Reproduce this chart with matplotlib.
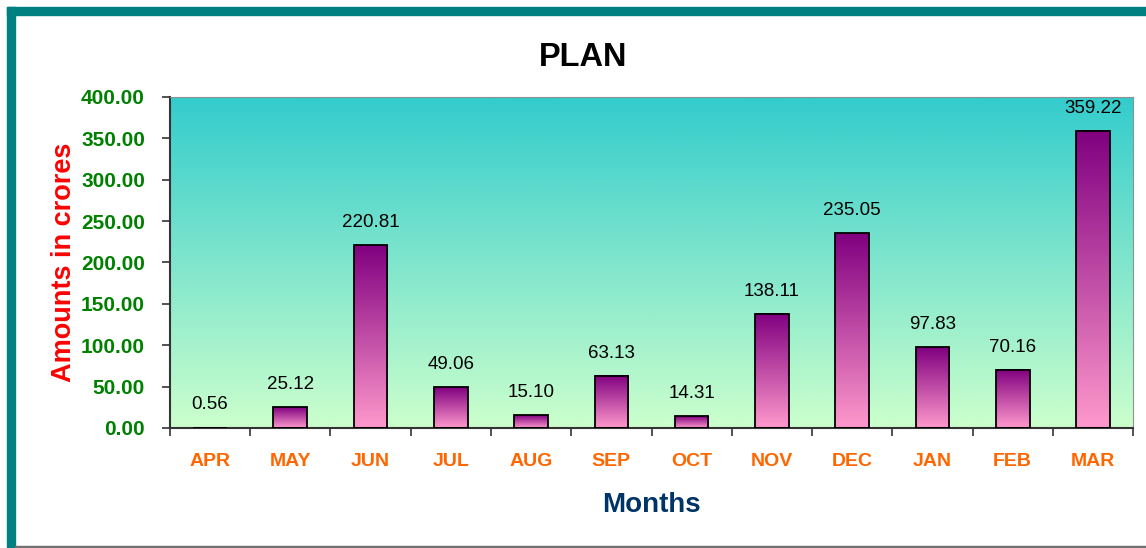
import matplotlib
matplotlib.use('Agg')
import matplotlib.pyplot as plt
from matplotlib.colors import LinearSegmentedColormap
from matplotlib.patches import Rectangle
import numpy as np

plt.rcParams['font.family'] = ['Liberation Sans', 'DejaVu Sans']

months = ['APR', 'MAY', 'JUN', 'JUL', 'AUG', 'SEP', 'OCT', 'NOV', 'DEC', 'JAN', 'FEB', 'MAR']
plan = [0.56, 25.12, 220.81, 49.06, 15.10, 63.13, 14.31, 138.11, 235.05, 97.83, 70.16, 359.22]
yticks = [0, 50, 100, 150, 200, 250, 300, 350, 400]

fig = plt.figure(figsize=(11.46, 5.48), dpi=100)
ax = fig.add_axes([0.1483, 0.219, 0.8404, 0.604])

# teal frame at top / left, grey line at bottom
fig.patches.append(Rectangle((7/1146, 0), 8/1146, 1 - 7/548, transform=fig.transFigure,
                             color='#008080', zorder=0))
fig.patches.append(Rectangle((7/1146, 1 - 15/548), 1, 8/548, transform=fig.transFigure,
                             color='#008080', zorder=0))
fig.patches.append(Rectangle((15/1146, 0), 1, 2/548, transform=fig.transFigure,
                             color='#707070', zorder=0))

# background gradient
bg = LinearSegmentedColormap.from_list('bg', ['#CCFFCC', '#33CCCC'])
grad = np.linspace(0, 1, 256).reshape(-1, 1)
ax.imshow(grad, cmap=bg, origin='lower', extent=[0, 1, 0, 1], transform=ax.transAxes,
          aspect='auto', zorder=0)

x = np.arange(len(months))
bars = ax.bar(x, plan, width=0.42, facecolor='none', edgecolor='black', linewidth=1.3, zorder=3)

barcm = LinearSegmentedColormap.from_list('bar', ['#FF99CC', '#800080'])
for b in bars:
    x0, w, h = b.get_x(), b.get_width(), b.get_height()
    ax.imshow(grad, cmap=barcm, origin='lower', extent=[x0, x0 + w, 0, h],
              aspect='auto', zorder=2)

for xi, v in zip(x, plan):
    ax.text(xi, v + 17, '%.2f' % v, ha='center', va='bottom', fontsize=13.5, color='black')

ax.set_xlim(-0.5, len(months) - 0.5)
ax.set_ylim(0, 400)
ax.set_yticks(yticks)
ax.set_yticklabels(['%.2f' % t for t in yticks], color='#008000', fontweight='bold', fontsize=15)
ax.set_xticks(x)
ax.set_xticklabels(months, color='#FF6600', fontweight='bold', fontsize=14)
ax.set_xticks(np.arange(len(months) + 1) - 0.5, minor=True)
ax.tick_params(axis='x', which='major', length=0, pad=18)
ax.tick_params(axis='x', which='minor', length=6, width=1.2, color='#333333')
ax.tick_params(axis='y', length=6, width=1.2, color='#333333', pad=12)

for s in ['top', 'right']:
    ax.spines[s].set_color('#909090')
for s in ['left', 'bottom']:
    ax.spines[s].set_color('#333333')
    ax.spines[s].set_linewidth(1.5)

fig.text(583/1146, 1 - 58/548, 'PLAN', fontsize=23.5, fontweight='bold', ha='center', va='center')
ax.set_xlabel('Months', fontsize=20, fontweight='bold', color='#003366', labelpad=16)
ax.set_ylabel('Amounts in crores', fontsize=19.5, fontweight='bold', color='#FF0000', labelpad=3)

fig.savefig('out.png', dpi=100)
